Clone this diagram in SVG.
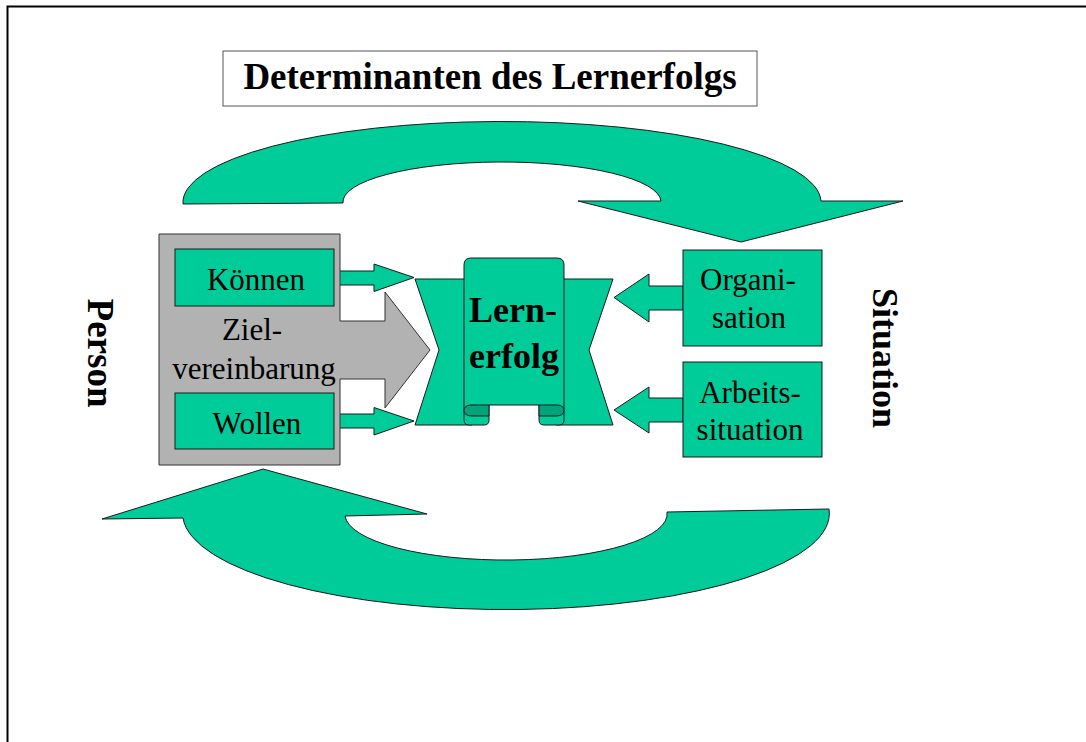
<svg xmlns="http://www.w3.org/2000/svg" width="1086" height="742" viewBox="0 0 1086 742">
  <style>
    .green { fill: #00CC99; stroke: #1a1a1a; stroke-width: 1; }
    .dark { fill: #00A37A; stroke: #1a1a1a; stroke-width: 1; }
    .gray { fill: #B2B2B2; stroke: #333333; stroke-width: 1; }
    .t { font-family: "Liberation Serif", "Times New Roman", serif; font-size: 31px; fill: #000; text-anchor: middle; }
    .b { font-family: "Liberation Serif", "Times New Roman", serif; font-weight: bold; fill: #000; text-anchor: middle; }
  </style>
  <rect width="1086" height="742" fill="#ffffff"/>
  <!-- page frame -->
  <path d="M7.5,742 V6.5 H1086" fill="none" stroke="#000" stroke-width="2"/>

  <!-- title -->
  <g id="title">
    <rect x="223" y="51" width="534" height="55" fill="#fff" stroke="#555" stroke-width="1"/>
    <text class="b" x="490" y="89" font-size="37">Determinanten des Lernerfolgs</text>
  </g>

  <!-- cycle arrows and connectors -->
  <g id="connectors">
    <path class="green" d="M183,204 A319,81 0 0 1 821,201 L903,201 L741,242 L578,201 L661,201 A159,40 0 0 0 343,203 Z"/>
    <path class="green" d="M829,509 A323,96 0 0 1 183,518 L102,519 L263,469 L427,514 L345,516 A161,46 0 0 0 667,512 Z"/>
    <!-- Können -> Lernerfolg -->
    <path class="green" d="M334,271 H374 V264 L414,277.5 L374,291.5 V285 H334 Z"/>
    <!-- Wollen -> Lernerfolg -->
    <path class="green" d="M334,414 H374 V407.5 L414,421 L374,435 V428 H334 Z"/>
    <!-- Organisation -> Lernerfolg -->
    <path class="green" d="M683,286 H649 V274 L614,297.5 L649,322 V310 H683 Z"/>
    <!-- Arbeitssituation -> Lernerfolg -->
    <path class="green" d="M683,398 H649 V387 L614,410 L649,433 V422 H683 Z"/>
  </g>

  <!-- Person: Zielvereinbarung block with arrow -->
  <g id="person">
    <path class="gray" d="M159,234 H340 V321 H385 V292 L430,350 L385,408 V379 H340 V465 H159 Z"/>
    <text class="t" x="252" y="340">Ziel-</text>
    <text class="t" x="254" y="379">vereinbarung</text>
  </g>
  <g id="koennen">
    <rect class="green" x="175" y="249" width="159" height="57"/>
    <text class="t" x="256" y="290">Können</text>
  </g>
  <g id="wollen">
    <rect class="green" x="175" y="393" width="159" height="56"/>
    <text class="t" x="257" y="434">Wollen</text>
  </g>

  <!-- Lernerfolg ribbon -->
  <g id="lernerfolg">
    <path class="green" d="M415,279 H472 V425 H415 L439,350 Z"/>
    <path class="green" d="M613,279 H556 V425 H613 L589,350 Z"/>
    <path class="green" d="M471,258 H557 Q564,258 564,265 V420 Q564,425 559,425 H544 Q539,425 539,420 V405 H489 V420 Q489,425 484,425 H469 Q464,425 464,420 V265 Q464,258 471,258 Z"/>
    <path class="dark" d="M489,405 H471 Q464,405 464,411 Q465,416 472,416 H489 Z"/>
    <path class="dark" d="M539,405 H557 Q564,405 564,411 Q563,416 556,416 H539 Z"/>
    <text class="b" x="513" y="322" font-size="36">Lern-</text>
    <text class="b" x="514" y="368" font-size="36">erfolg</text>
  </g>

  <!-- Situation side -->
  <g id="organisation">
    <rect class="green" x="683" y="250" width="139" height="96"/>
    <text class="t" x="748" y="290">Organi-</text>
    <text class="t" x="749" y="328">sation</text>
  </g>
  <g id="arbeitssituation">
    <rect class="green" x="683" y="362" width="139" height="95"/>
    <text class="t" x="750" y="403">Arbeits-</text>
    <text class="t" x="750" y="440">situation</text>
  </g>

  <!-- side labels -->
  <g id="label-person">
    <text class="b" font-size="37" transform="translate(88,353) rotate(90)">Person</text>
  </g>
  <g id="label-situation">
    <text class="b" font-size="36" transform="translate(873,358) rotate(90)">Situation</text>
  </g>
</svg>
